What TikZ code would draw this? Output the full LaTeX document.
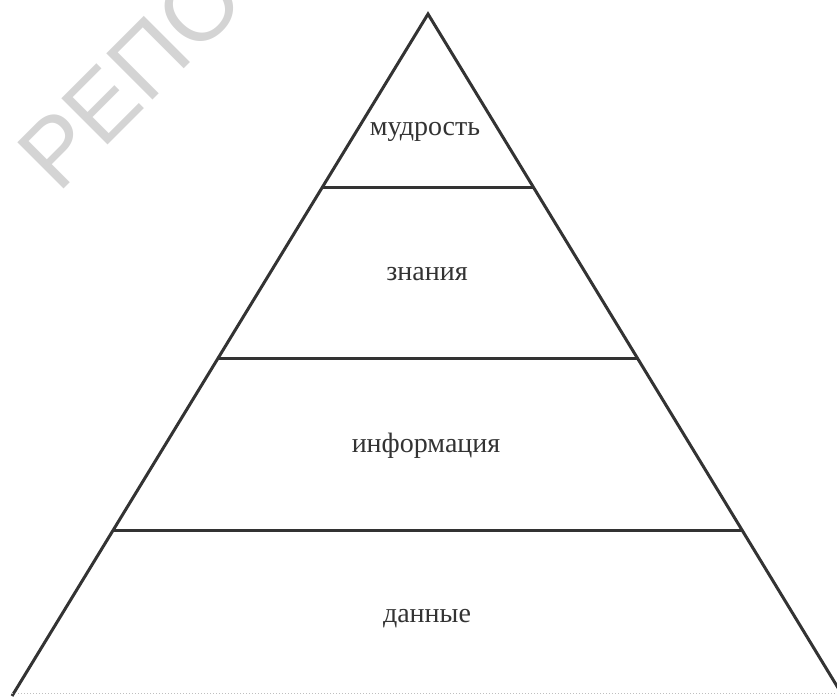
\documentclass[tikz,border=0pt]{standalone}
\usepackage{fontspec}
\setmainfont{Liberation Serif}
\newfontfamily\marksans{Liberation Sans}
\usetikzlibrary{calc}

\begin{document}
\begin{tikzpicture}[x=1pt, y=-1pt, every node/.style={font=\fontsize{28}{30}\selectfont, text=black!80},
	edge/.style={line width=3pt, draw=black!80}]
	\useasboundingbox (0,0) rectangle (837,696);
	\clip (0,0) rectangle (837,696);
	% watermark
	\node[font=\marksans\fontsize{95}{95}\selectfont, text=black!17, rotate=45, anchor=base west, inner sep=0pt] (mark) at (58,195) {РЕПО};
	% pyramid
	\coordinate (top) at (428,14);
	\coordinate (bl) at (12,696);
	\coordinate (br) at (843,696);
	\draw[edge, line join=miter] (bl) -- (top) -- (br);
	\draw[line width=1pt, black!25, dotted] (bl) ++(0,-3) -- ($(br)+(0,-3)$);
	\foreach \y in {187,358,530}
		\draw[edge] ($(top)!{(\y-14)/682}!(bl)$) -- ($(top)!{(\y-14)/682}!(br)$);
	\node (wisdom) at (425,132) {мудрость};
	\node (knowledge) at (427,274) {знания};
	\node (information) at (426,446) {информация};
	\node (data) at (427,619) {данные};
\end{tikzpicture}
\end{document}
